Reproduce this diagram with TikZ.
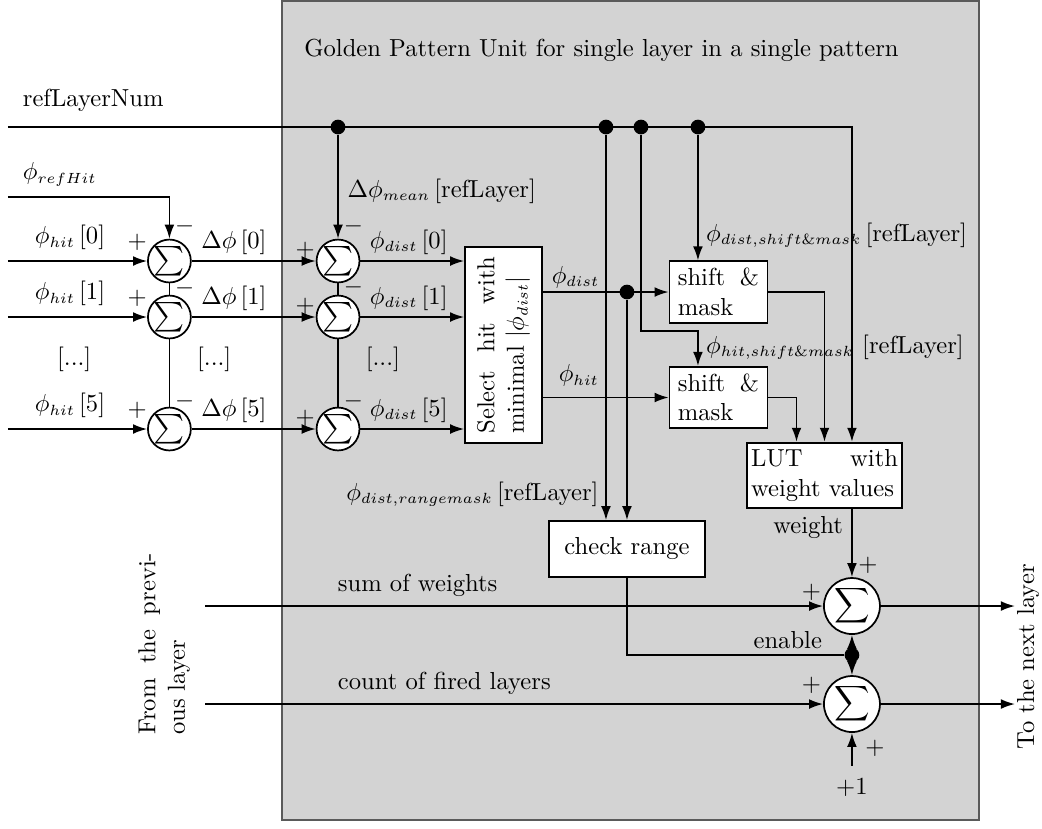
\documentclass[tikz,border=0pt]{standalone}
\usepackage{amsmath}
\usepackage{tikz}
\usetikzlibrary{arrows.meta,calc}
\DeclareMathSizes{10}{10}{6}{5}
\definecolor{panel}{HTML}{D3D3D3}
\definecolor{rim}{HTML}{5A5A5A}
\tikzset{
  sumsm/.style={circle, draw, fill=white, inner sep=0pt, minimum size=0.6cm, font=\large},
  sumlg/.style={circle, draw, fill=white, inner sep=0pt, minimum size=0.8cm},
  blk/.style={draw, fill=white, inner xsep=0.12cm, inner ysep=0.1cm},
  arr/.style={-{Latex[length=2mm,width=1.4mm]}},
  dot/.style={circle, fill, inner sep=0pt, minimum size=0.21cm},
  lab/.style={inner sep=1pt},
  sgn/.style={inner sep=0pt},
}

\begin{document}
\begin{tikzpicture}[x=1cm,y=1cm,line width=0.7pt]
  \useasboundingbox (0,0) rectangle (14.886,11.829);
  \fill[panel] (4.03,0.11) rectangle (13.99,11.81);
  \draw[rim, line width=0.8pt] (4.03,0.11) rectangle (13.99,11.81);
  \node[lab, anchor=west] (title) at (4.3,11.11) {Golden Pattern Unit for single layer in a single pattern};

  % blocks
  \node[blk, minimum width=1.1cm, minimum height=2.8cm] (sel) at (7.193,6.9) {\rotatebox{90}{\parbox{2.53cm}{Select hit with\linebreak minimal $|\phi_{dist}|$}}};
  \node[blk, text width=1.16cm, align=justify] (sm1) at (10.264,7.657) {shift \&\linebreak mask};
  \node[blk, text width=1.16cm, align=justify] (sm2) at (10.264,6.15) {shift \&\linebreak mask};
  \node[blk, text width=2.1cm, inner xsep=0.06cm, align=justify] (lut) at (11.779,5.036) {LUT with\linebreak weight values};
  \node[blk, minimum width=2.23cm, minimum height=0.8cm] (chk) at (8.957,3.986) {check range};
  \node[sumlg] (s3) at (12.171,3.171) {$\displaystyle\sum$};
  \node[sumlg] (s4) at (12.171,1.771) {$\displaystyle\sum$};

  \foreach \n/\x in {d1/4.829, d2/8.657, d3/9.157, d4/9.971}
    \node[dot] (\n) at (\x,10.014) {};
  \node[dot] (d5) at (8.957,7.657) {};
  \node[dot] (en) at (12.171,2.471) {};

  % refLayerNum bus
  \coordinate (refin) at (0.114,10.014);
  \coordinate (rc) at (12.171,10.014);
  \draw[arr] (refin) -- (rc) -- (rc |- lut.north);
  \node[lab, anchor=south west] at (0.28,10.19) {refLayerNum};

  % input stage
  \coordinate (rh) at (0.114,9.014);
  \node[lab, anchor=south west] at (0.28,9.12) {$\phi_{refHit}$};
  \foreach \i/\y/\m/\k in {0/8.1/0.5/0.49, 1/7.3/0.41/0.42, 5/5.7/0.4/0.4} {
    \node[sumsm] (a\i) at (2.42,\y) {$\sum$};
    \node[sumsm] (b\i) at (4.829,\y) {$\sum$};
    \coordinate (h\i) at (0.114,\y);
    \draw[arr] (h\i) -- (a\i);
    \draw[arr] (a\i) -- (b\i);
    \draw[arr] (b\i) -- (b\i -| sel.west);
    \node[lab, anchor=south] at (1.0,\y+0.11) {$\phi_{hit}\,[\i]$};
    \node[sgn] at ($(a\i)+(-0.46,0.27)$) {$+$};
    \node[sgn] at ($(a\i)+(0.22,\m)$) {$-$};
    \node[lab, anchor=south west] at ($(a\i.east)+(0.09,0.05)$) {$\Delta\phi\,[\i]$};
    \node[sgn] at ($(b\i)+(-0.47,0.15)$) {$+$};
    \node[sgn] at ($(b\i)+(0.22,\k)$) {$-$};
    \node[lab, anchor=south west] at ($(b\i.east)+(0.09,0.05)$) {$\phi_{dist}\,[\i]$};
  }
  \draw[arr] (rh) -| (a0);
  \draw (a0) -- (a1);
  \draw (a1) -- (a5);
  \draw[arr] (d1) -- (b0);
  \draw (b0) -- (b1);
  \draw (b1) -- (b5);
  \node[lab] at (1.06,6.69) {[...]};
  \node[lab] at (3.06,6.69) {[...]};
  \node[lab] at (5.47,6.69) {[...]};
  \node[lab, anchor=west] at (4.92,9.1) {$\Delta\phi_{mean}\,[\mathrm{refLayer}]$};

  % selection and masking
  \draw[arr] (sel.east |- sm1.west) -- (sm1.west);
  \draw[arr] (sel.east |- sm2.west) -- (sm2.west);
  \node[lab, anchor=south west] at ($(sel.east |- sm1.west)+(0.08,0.01)$) {$\phi_{dist}$};
  \node[lab, anchor=south west] at ($(sel.east |- sm2.west)+(0.18,0.11)$) {$\phi_{hit}$};
  \draw[arr] (d2) -- (d2 |- chk.north);
  \draw[arr] (d5) -- (d5 |- chk.north);
  \draw[arr] (d4) -- (d4 |- sm1.north);
  \coordinate (k1) at (9.971,7.1);
  \draw[arr] (d3) |- (k1) -- (k1 |- sm2.north);
  \node[lab, anchor=west] at (10.04,8.47) {$\phi_{dist,shift\&mask}\,[\mathrm{refLayer}]$};
  \node[lab, anchor=west] at (10.04,6.87) {$\phi_{hit,shift\&mask}\,\,[\mathrm{refLayer}]$};
  \node[lab, anchor=east] at (8.6,4.77) {$\phi_{dist,rangemask}\,[\mathrm{refLayer}]$};
  \draw[arr] (sm1.east) -| (lut.north);
  \draw[arr] (sm2.east) -| ($(lut.north)+(-0.4,0)$);

  % weight sums
  \draw[arr] (s3 |- lut.south) -- (s3);
  \node[lab, anchor=east] at (12.09,4.29) {weight};
  \node[sgn] at ($(s3)+(0.23,0.586)$) {$+$};
  \draw (chk.south) |- (en);
  \draw[arr] (en) -- (s3);
  \draw[arr] (en) -- (s4);
  \node[lab, anchor=east] at (11.79,2.69) {enable};
  \coordinate (sw) at (2.929,3.171);
  \coordinate (cf) at (2.929,1.771);
  \draw[arr] (sw) -- (s3);
  \draw[arr] (cf) -- (s4);
  \node[lab, anchor=west] at (4.78,3.46) {sum of weights};
  \node[lab, anchor=west] at (4.78,2.07) {count of fired layers};
  \node[sgn] at ($(s3)+(-0.58,0.19)$) {$+$};
  \node[sgn] at ($(s4)+(-0.58,0.27)$) {$+$};
  \coordinate (o3) at (14.5,3.171);
  \coordinate (o4) at (14.5,1.771);
  \draw[arr] (s3) -- (o3);
  \draw[arr] (s4) -- (o4);
  \node[lab, inner sep=5pt] (one) at (12.171,0.571) {$+1$};
  \draw[arr] (one) -- (s4);
  \node[sgn] at ($(s4)+(0.33,-0.63)$) {$+$};

  \node[rotate=90] (prev) at (2.343,2.63) {\parbox{2.6cm}{From the previ-\linebreak ous layer}};
  \node[rotate=90] (next) at (14.686,2.443) {To the next layer};
\end{tikzpicture}
\end{document}
